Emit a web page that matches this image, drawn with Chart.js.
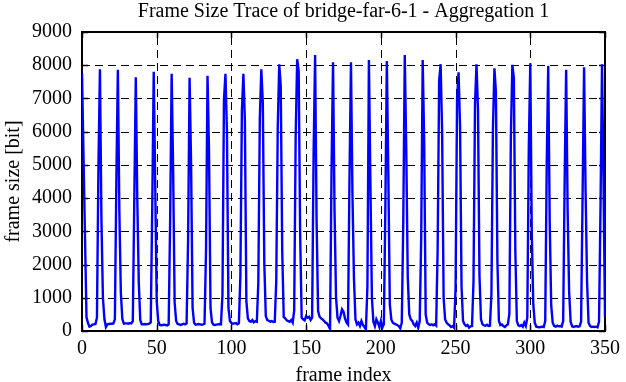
<!DOCTYPE html>
<html><head><meta charset="utf-8">
<script src="https://cdn.jsdelivr.net/npm/chart.js@4/dist/chart.umd.min.js"></script>
<style>html,body{margin:0;padding:0;background:#fff}#wrap{width:626px;height:382px}</style>
</head><body><div id="wrap"><canvas id="c" width="626" height="382"></canvas></div>
<script>
const chartTitle = 'Frame Size Trace of bridge-far-6-1 - Aggregation 1';
const xAxisTitle = 'frame index';
const yAxisTitle = 'frame size [bit]';
const xTickValues = [0, 50, 100, 150, 200, 250, 300, 350];
const yTickValues = [0, 1000, 2000, 3000, 4000, 5000, 6000, 7000, 8000, 9000];
const frameSizes = [
  7760, 5300, 2850, 420, 240, 130, 150, 190, 200, 210, 400, 4950,
  7880, 3370, 1000, 360, 120, 200, 210, 220, 220, 230, 350, 4570,
  7860, 3600, 1150, 360, 220, 230, 230, 220, 240, 230, 300, 3970,
  7640, 3970, 1450, 330, 200, 200, 210, 200, 210, 220, 260, 3710,
  7800, 4410, 900, 300, 180, 170, 180, 190, 180, 170, 200, 3370,
  7740, 4810, 850, 300, 210, 200, 180, 200, 220, 200, 230, 2750,
  7620, 5045, 700, 250, 190, 200, 210, 200, 190, 200, 220, 2430,
  7680, 5420, 700, 260, 190, 180, 190, 200, 210, 200, 1100, 6955,
  7740, 6020, 700, 300, 240, 220, 230, 240, 200, 230, 1680, 6630,
  7740, 6350, 900, 380, 300, 280, 330, 260, 290, 280, 1460, 6400,
  7880, 6880, 2030, 450, 330, 310, 280, 300, 270, 280, 1500, 6130,
  8030, 7380, 2400, 420, 380, 320, 300, 280, 330, 250, 620, 5900,
  8180, 7830, 2880, 400, 350, 320, 450, 400, 430, 330, 400, 5380,
  8310, 3290, 600, 430, 380, 350, 300, 250, 230, 150, 60, 4890,
  8090, 3610, 1020, 400, 300, 450, 650, 580, 380, 260, 200, 4560,
  8090, 4090, 1580, 350, 200, 250, 150, 300, 180, 120, 50, 1330,
  8160, 4470, 1000, 280, 150, 350, 250, 120, 300, 100, 200, 3670,
  8130, 4710, 800, 350, 250, 220, 200, 180, 150, 80, 250, 3270,
  8310, 5450, 1630, 500, 350, 300, 200, 150, 250, 100, 300, 2810,
  8160, 5680, 500, 250, 200, 180, 200, 170, 200, 160, 2450, 7530,
  8030, 6000, 1000, 350, 250, 200, 170, 120, 150, 100, 1280, 6985,
  7790, 6170, 1330, 300, 200, 150, 180, 100, 140, 150, 1480, 6820,
  8030, 6680, 1660, 350, 200, 170, 160, 190, 150, 160, 1130, 6080,
  7910, 7190, 2110, 300, 180, 200, 150, 120, 170, 200, 520, 5840,
  8010, 7610, 2400, 300, 170, 150, 180, 130, 250, 150, 400, 5500,
  8060, 2960, 800, 250, 130, 120, 110, 120, 130, 120, 300, 5015,
  7980, 3270, 770, 250, 150, 130, 160, 140, 150, 130, 300, 4540,
  7860, 3610, 1180, 280, 140, 120, 140, 150, 130, 140, 280, 4060,
  7940, 4240, 1480, 250, 150, 120, 130, 120, 130, 110, 280, 3730,
  8030, 4510, 420
];

const serif = 'Liberation Serif, Times New Roman, serif';

const frameBox = {
  id: 'frameBox',
  beforeDatasetsDraw(chart) {
    const {ctx, chartArea: a, scales: {x, y}} = chart;
    ctx.save();
    ctx.strokeStyle = '#000';
    ctx.lineWidth = 1;
    ctx.setLineDash([8, 5]);
    ctx.beginPath();
    xTickValues.forEach(v => {
      const px = Math.round(x.getPixelForValue(v)) + 0.5;
      ctx.moveTo(px, a.bottom); ctx.lineTo(px, a.top);
    });
    yTickValues.forEach(v => {
      const py = Math.round(y.getPixelForValue(v)) + 0.5;
      ctx.moveTo(a.left, py); ctx.lineTo(a.right, py);
    });
    ctx.stroke();
    ctx.setLineDash([]);
    ctx.lineWidth = 1.5;
    ctx.beginPath();
    xTickValues.forEach(v => {
      const px = Math.round(x.getPixelForValue(v)) + 0.5;
      ctx.moveTo(px, a.bottom); ctx.lineTo(px, a.bottom - 6);
      ctx.moveTo(px, a.top); ctx.lineTo(px, a.top + 6);
    });
    yTickValues.forEach(v => {
      const py = Math.round(y.getPixelForValue(v)) + 0.5;
      ctx.moveTo(a.left, py); ctx.lineTo(a.left + 6, py);
      ctx.moveTo(a.right, py); ctx.lineTo(a.right - 6, py);
    });
    ctx.stroke();
    ctx.lineWidth = 2;
    ctx.strokeRect(a.left, a.top, a.right - a.left, a.bottom - a.top);
    ctx.restore();
  }
};

new Chart(document.getElementById('c'), {
  type: 'line',
  data: {
    datasets: [{
      data: frameSizes.map((v, i) => ({x: i, y: v})),
      borderColor: '#0000ff',
      borderWidth: 2.4,
      pointRadius: 0,
      tension: 0,
      fill: false
    }]
  },
  options: {
    responsive: false,
    devicePixelRatio: 1,
    animation: false,
    events: [],
    layout: {padding: {left: 0, right: 16, top: 0, bottom: 0}},
    plugins: {
      legend: {display: false},
      tooltip: {enabled: false},
      title: {
        display: true, text: chartTitle, color: '#000', fullSize: false,
        font: {family: serif, size: 20, weight: 'normal', lineHeight: 1},
        padding: {top: 2, bottom: 10}
      }
    },
    scales: {
      x: {
        type: 'linear', min: 0, max: 350,
        afterBuildTicks: s => { s.ticks = xTickValues.map(v => ({value: v})); },
        afterFit: s => { s.height = 51; },
        grid: {display: false, drawTicks: false},
        border: {display: false},
        ticks: {color: '#000', padding: 6, maxRotation: 0, autoSkip: false,
          callback: v => String(v),
          font: {family: serif, size: 20}},
        title: {display: true, text: xAxisTitle, color: '#000',
          font: {family: serif, size: 20, lineHeight: 0.6}, padding: {top: 0, bottom: 0}}
      },
      y: {
        type: 'linear', min: 0, max: 9000,
        afterBuildTicks: s => { s.ticks = yTickValues.map(v => ({value: v})); },
        afterFit: s => { s.width = 82; },
        grid: {display: false, drawTicks: false},
        border: {display: false},
        ticks: {color: '#000', padding: 10, autoSkip: false,
          callback: v => String(v),
          font: {family: serif, size: 20}},
        title: {display: true, text: yAxisTitle, color: '#000',
          font: {family: serif, size: 20, lineHeight: 1.2}, padding: {top: 2, bottom: 0}}
      }
    }
  },
  plugins: [frameBox]
});
</script>
</body></html>
